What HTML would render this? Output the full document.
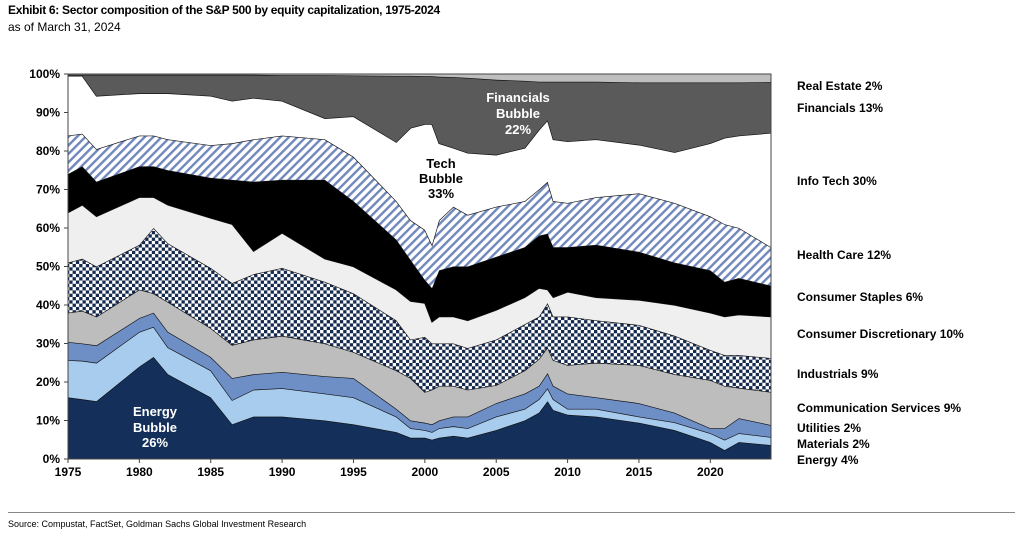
<!DOCTYPE html>
<html><head><meta charset="utf-8">
<style>
body{margin:0;background:#fff;font-family:"Liberation Sans",Arial,sans-serif;}
#wrap{position:relative;width:1031px;height:539px;overflow:hidden;}
.t{position:absolute;white-space:nowrap;}
</style></head>
<body>
<div id="wrap">
<div class="t" style="left:8px;top:3px;font-size:12px;font-weight:bold;letter-spacing:-0.3px">Exhibit 6: Sector composition of the S&amp;P 500 by equity capitalization, 1975-2024</div>
<div class="t" style="left:8px;top:20px;font-size:12px;">as of March 31, 2024</div>
<svg id="chart" width="1031" height="539" style="position:absolute;left:0;top:0">
<defs>
<pattern id="stripes" width="6" height="6" patternUnits="userSpaceOnUse" patternTransform="rotate(45)">
<rect width="6" height="6" fill="#ffffff"/><rect width="2.4" height="6" fill="#7088bd"/>
</pattern>
<pattern id="checker" width="6.6" height="6.6" patternUnits="userSpaceOnUse">
<rect width="6.6" height="6.6" fill="#ffffff"/><rect width="3.3" height="3.3" fill="#14294d"/><rect x="3.3" y="3.3" width="3.3" height="3.3" fill="#14294d"/>
</pattern>
</defs>
<g id="areas"></g><g id="axes"></g>
</svg>
<div class="t" style="left:8px;top:512px;width:1007px;height:1px;background:#888"></div>
<div class="t" style="left:8px;top:519px;font-size:9px;">Source: Compustat, FactSet, Goldman Sachs Global Investment Research</div>
</div>
<script>
const years=[1975,1976,1977,1980,1981,1982,1985,1986.5,1988,1990,1993,1995,1998,1999,2000,2000.5,2001,2002,2003,2005,2007,2008,2008.6,2009,2010,2012,2015,2017.5,2020,2021,2022,2024.25];
// cumulative stacked levels (%), bottom to top
const cumEnergy=[16,15.5,15,24,26.5,22,16,9,11,11,10,9,7,5.5,5.5,5,5.5,6,5.5,7.5,10,12,15,12.7,11.5,11,9.4,7.5,4.4,2.3,4.4,3.6];
const cumMaterials=[25.7,25.5,25,33,34.3,29,23,15.3,18,18.4,17,16,11,8,7.5,7,8,8.5,8,11,13,15.5,18.4,15.5,13,13,11,9.5,6.7,5,6.7,5.7];
const cumUtilities=[30.4,30,29.5,36.6,38,33,26.5,21,22,22.6,21.5,21,13,10,9.4,9,10,11,11,14.5,17,19,22.3,19,17,16,14.5,12,8,8,10.6,8.8];
const cumComm=[38,38.5,37,44,43,40.8,34,29.6,31,32,30,27.8,23,21,17.4,18,19,19,18,19.2,23,26,29,25.7,24.4,25,24.4,22,20.5,19,18.5,17.4];
const cumIndustrials=[51,52,50,55.6,60,56,49.6,45.7,48,49.6,46,43,36,31,31.7,30,30,30,28.8,31,35,37,40.5,37,37,36,34.8,32,28.3,27,27,26.2];
const cumConsDisc=[64,66,63,68,68,66,62.6,61,54,58.7,52,50,44,41,40.5,35.6,37,37,36,38.7,42,44.4,44,42,43.4,42,41.3,40,38,37,37.5,37];
const cumStaples=[74,76,72,76,76,75,73,72.5,72,72.5,72.5,67,57,51.7,46.5,44.4,49,50,50,52.5,55,58,58.5,55,55,55.6,53.8,51,49,46,47,45];
const cumHealth=[84,84.5,80.5,84,84,83,81.5,82,83,84,83,78.5,67,62,59.5,55.6,62,65.5,63.4,65.5,67,70,72,67,66.5,68,69,66.5,63,61,60,55];
const cumInfoTech=[99.5,99.5,94.3,95,95,95,94.3,93,93.8,93,88.5,89,82.3,86,87,87,82,80.8,79.5,79,80.8,85.5,88,83,82.5,83,81.6,79.7,82,83.4,84,84.7];
const cumFinancials=[99.8,99.8,99.8,99.8,99.8,99.8,99.8,99.8,99.8,99.7,99.7,99.6,99.5,99.5,99.4,99.4,99.3,99.2,99,98.5,98.2,98,98,98,98,98,97.8,97.8,97.8,97.8,97.8,97.9];
const cumRealEstate=years.map(()=>100);
const yTicks=[0,10,20,30,40,50,60,70,80,90,100];
const xTicks=[1975,1980,1985,1990,1995,2000,2005,2010,2015,2020];
const layers=[
 {n:'energy',d:cumEnergy,f:'#14305a',lab:'Energy 4%',ly:460},
 {n:'materials',d:cumMaterials,f:'#a8ccee',lab:'Materials 2%',ly:444},
 {n:'utilities',d:cumUtilities,f:'#6e8ec6',lab:'Utilities 2%',ly:428},
 {n:'communication-services',d:cumComm,f:'#bdbdbd',lab:'Communication Services 9%',ly:408},
 {n:'industrials',d:cumIndustrials,f:'url(#checker)',lab:'Industrials 9%',ly:374},
 {n:'consumer-discretionary',d:cumConsDisc,f:'#efefef',lab:'Consumer Discretionary 10%',ly:334},
 {n:'consumer-staples',d:cumStaples,f:'#000000',lab:'Consumer Staples 6%',ly:297},
 {n:'health-care',d:cumHealth,f:'url(#stripes)',lab:'Health Care 12%',ly:255},
 {n:'info-tech',d:cumInfoTech,f:'#ffffff',lab:'Info Tech 30%',ly:181},
 {n:'financials',d:cumFinancials,f:'#5a5a5a',lab:'Financials 13%',ly:108},
 {n:'real-estate',d:cumRealEstate,f:'#bfbfbf',lab:'Real Estate 2%',ly:86}
];
const X0=68,X1=771,Y0=459,Y1=74;
const xs=yr=>X0+(yr-1975)/(2024.25-1975)*(X1-X0);
const ys=v=>Y0-(v/100)*(Y0-Y1);
const NS='http://www.w3.org/2000/svg';
const A=document.getElementById('areas'),G=document.getElementById('axes');
function mk(tag,at,par){const e=document.createElementNS(NS,tag);for(const k in at)e.setAttribute(k,at[k]);par.appendChild(e);return e;}
let prev=years.map(()=>0);
layers.forEach(L=>{
 let d='M'+years.map((y,i)=>xs(y).toFixed(1)+','+ys(L.d[i]).toFixed(1)).join('L');
 for(let i=years.length-1;i>=0;i--)d+='L'+xs(years[i]).toFixed(1)+','+ys(prev[i]).toFixed(1);
 const p=mk('path',{d:d+'Z',fill:L.f},A);
 
 
 if(L.n!=='real-estate'){
  const ln=mk('path',{d:'M'+years.map((y,i)=>xs(y).toFixed(1)+','+ys(L.d[i]).toFixed(1)).join('L'),fill:'none',stroke:'#111','stroke-width':1.3},A);
  
  
 }
 const t=mk('text',{x:797,y:L.ly+4,'font-size':12,'font-weight':'bold','font-family':'Liberation Sans, Arial, sans-serif'},G);
 t.textContent=L.lab;
 
 
 prev=L.d;
});
const fr=mk('rect',{x:X0,y:Y1,width:X1-X0,height:Y0-Y1,fill:'none',stroke:'#444','stroke-width':1},G);


yTicks.forEach(v=>{
 mk('line',{x1:X0-4,x2:X0,y1:ys(v),y2:ys(v),stroke:'#444'},G);
 const t=mk('text',{x:X0-8,y:ys(v)+4,'text-anchor':'end','font-size':12,'font-weight':'bold','font-family':'Liberation Sans, Arial, sans-serif'},G);
 t.textContent=v+'%';
 
 
});
xTicks.forEach(v=>{
 mk('line',{x1:xs(v),x2:xs(v),y1:Y0,y2:Y0+4,stroke:'#444'},G);
 const t=mk('text',{x:xs(v),y:Y0+17,'text-anchor':'middle','font-size':12,'font-weight':'bold','font-family':'Liberation Sans, Arial, sans-serif'},G);
 t.textContent=v;
 
 
});
[['financials-bubble-label',518,[['Financials',102],['Bubble',118],['22%',134]],'#fff'],
 ['tech-bubble-label',441,[['Tech',168],['Bubble',183],['33%',198]],'#000'],
 ['energy-bubble-label',155,[['Energy',416],['Bubble',432],['26%',447]],'#fff']].forEach(a=>{
 const t=mk('text',{'text-anchor':'middle','font-size':13,'font-weight':'bold',fill:a[3],'font-family':'Liberation Sans, Arial, sans-serif'},G);
 
 
 a[2].forEach(l=>{const s=mk('tspan',{x:a[1],y:l[1]},t);s.textContent=l[0];});
});
</script>
</body></html>
